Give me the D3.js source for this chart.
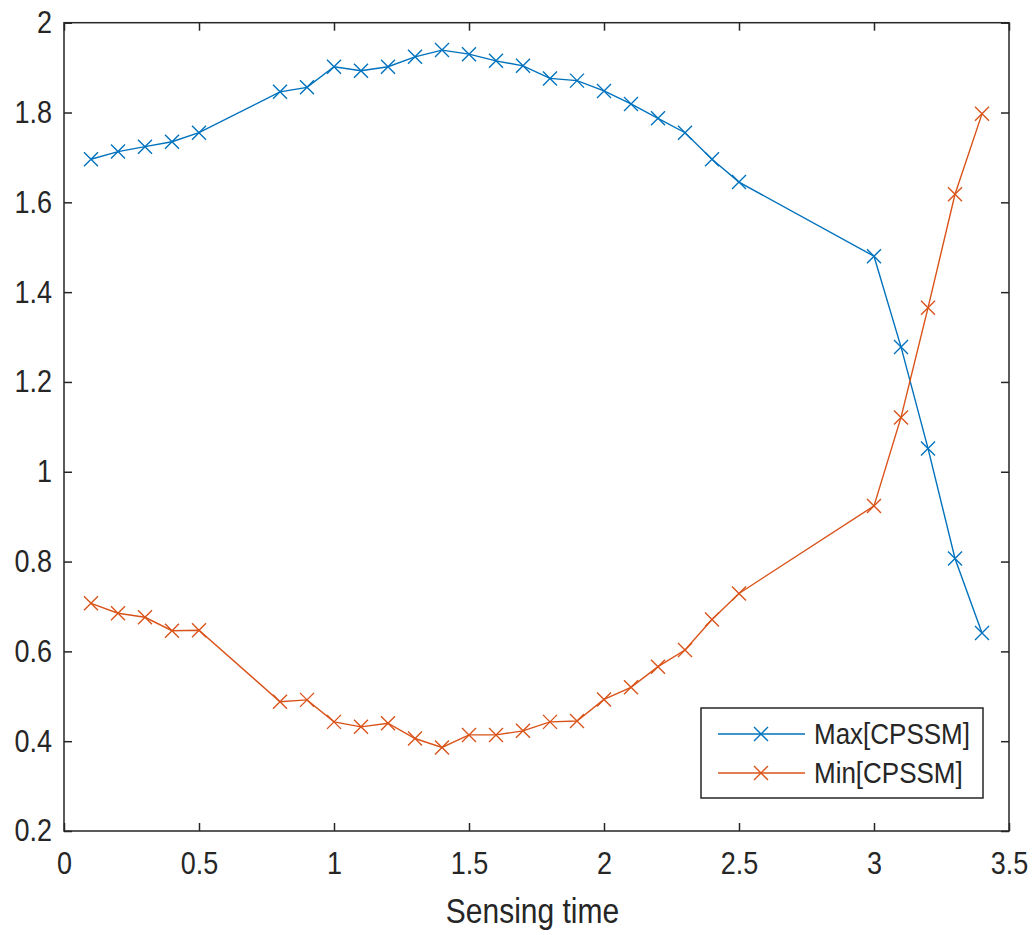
<!DOCTYPE html>
<html>
<head>
<meta charset="utf-8">
<script src="https://cdn.jsdelivr.net/npm/d3@7.9.0/dist/d3.min.js"></script>
<style>
  body { margin: 0; background: #fff; }
  svg { display: block; font-family: "Liberation Sans", Arial, sans-serif; }
</style>
</head>
<body>
<svg id="chart" width="1035" height="935"></svg>
<script>
const sensingTime = [0.1, 0.2, 0.3, 0.4, 0.5, 0.8, 0.9, 1.0, 1.1, 1.2, 1.3, 1.4, 1.5, 1.6,
    1.7, 1.8, 1.9, 2.0, 2.1, 2.2, 2.3, 2.4, 2.5, 3.0, 3.1, 3.2, 3.3, 3.4];
const maxCPSSM = [1.696, 1.713, 1.724, 1.735, 1.755, 1.846, 1.856, 1.902, 1.893, 1.902, 1.924,
    1.939, 1.930, 1.915, 1.904, 1.876, 1.871, 1.848, 1.819, 1.787, 1.755, 1.696, 1.645,
    1.480, 1.278, 1.052, 0.807, 0.641];
const minCPSSM = [0.707, 0.685, 0.676, 0.646, 0.647, 0.488, 0.492, 0.443, 0.432, 0.440, 0.406,
    0.386, 0.414, 0.414, 0.423, 0.443, 0.445, 0.493, 0.520, 0.566, 0.603, 0.671, 0.729,
    0.924, 1.121, 1.365, 1.618, 1.797];
const xTicks = [0, 0.5, 1, 1.5, 2, 2.5, 3, 3.5];
const yTicks = [0.2, 0.4, 0.6, 0.8, 1, 1.2, 1.4, 1.6, 1.8, 2];
const seriesNames = ['Max[CPSSM]', 'Min[CPSSM]'];
const seriesColors = ['#0072BD', '#D95319'];

const width = 1035, height = 935;
const margin = { top: 22.7, right: 26, bottom: 104, left: 64 };
const innerW = width - margin.left - margin.right;
const innerH = height - margin.top - margin.bottom;
const axisColor = '#262626';
const stretch = 'scale(1,1.15)';

const svg = d3.select('#chart');
const g = svg.append('g').attr('transform', `translate(${margin.left},${margin.top})`);

const x = d3.scaleLinear().domain([0, 3.5]).range([0, innerW]);
const y = d3.scaleLinear().domain([0.2, 2]).range([innerH, 0]);

const fmt = d => String(+d.toFixed(1));

function styleAxis(sel) {
    sel.select('.domain').remove();
    sel.selectAll('.tick line').attr('stroke', axisColor).attr('stroke-width', 1.5);
    sel.selectAll('.tick text')
        .attr('fill', axisColor)
        .attr('font-size', 27)
        .attr('font-family', '"Liberation Sans", Arial, sans-serif')
        .attr('transform', stretch);
}

g.append('g')
    .attr('transform', `translate(0,${innerH})`)
    .call(d3.axisBottom(x).tickValues(xTicks).tickFormat(fmt).tickSize(-8).tickPadding(18))
    .call(styleAxis);

g.append('g')
    .call(d3.axisLeft(y).tickValues(yTicks).tickFormat(fmt).tickSize(-8).tickPadding(12))
    .call(styleAxis);

g.append('g')
    .call(d3.axisTop(x).tickValues(xTicks).tickFormat('').tickSize(-8))
    .call(styleAxis);

g.append('g')
    .attr('transform', `translate(${innerW},0)`)
    .call(d3.axisRight(y).tickValues(yTicks).tickFormat('').tickSize(-8))
    .call(styleAxis);

g.append('rect')
    .attr('width', innerW)
    .attr('height', innerH)
    .attr('fill', 'none')
    .attr('stroke', axisColor)
    .attr('stroke-width', 1.5);

const series = [maxCPSSM, minCPSSM].map((vals, i) => ({
    name: seriesNames[i],
    color: seriesColors[i],
    points: vals.map((v, j) => ({ t: sensingTime[j], v }))
}));

const line = d3.line().x(d => x(d.t)).y(d => y(d.v));
const m = 7;
const crossPath = (cx, cy) =>
    `M${cx - m},${cy - m}L${cx + m},${cy + m}M${cx - m},${cy + m}L${cx + m},${cy - m}`;

series.forEach(s => {
    g.append('path')
        .datum(s.points)
        .attr('fill', 'none')
        .attr('stroke', s.color)
        .attr('stroke-width', 1.4)
        .attr('d', line);

    g.append('g')
        .selectAll('path')
        .data(s.points)
        .join('path')
        .attr('fill', 'none')
        .attr('stroke', s.color)
        .attr('stroke-width', 1.4)
        .attr('d', d => crossPath(x(d.t), y(d.v)));
});

// x label
g.append('text')
    .attr('x', innerW / 2 - 4)
    .attr('y', (innerH + 92) / 1.15)
    .attr('transform', stretch)
    .attr('text-anchor', 'middle')
    .attr('font-size', 30)
    .attr('fill', axisColor)
    .text('Sensing time');

// legend
const legend = svg.append('g').attr('transform', 'translate(701,708)');
legend.append('rect')
    .attr('width', 282)
    .attr('height', 90)
    .attr('fill', '#fff')
    .attr('stroke', axisColor)
    .attr('stroke-width', 1.5);

series.forEach((s, i) => {
    const ly = 26 + i * 39;
    legend.append('line')
        .attr('x1', 17).attr('x2', 104)
        .attr('y1', ly).attr('y2', ly)
        .attr('stroke', s.color)
        .attr('stroke-width', 1.4);
    legend.append('path')
        .attr('fill', 'none')
        .attr('stroke', s.color)
        .attr('stroke-width', 1.4)
        .attr('d', crossPath(60, ly));
    legend.append('text')
        .attr('x', 113)
        .attr('y', ly / 1.15)
        .attr('dy', '0.35em')
        .attr('transform', stretch)
        .attr('font-size', 26)
        .attr('fill', axisColor)
        .text(s.name);
});
</script>
</body>
</html>
